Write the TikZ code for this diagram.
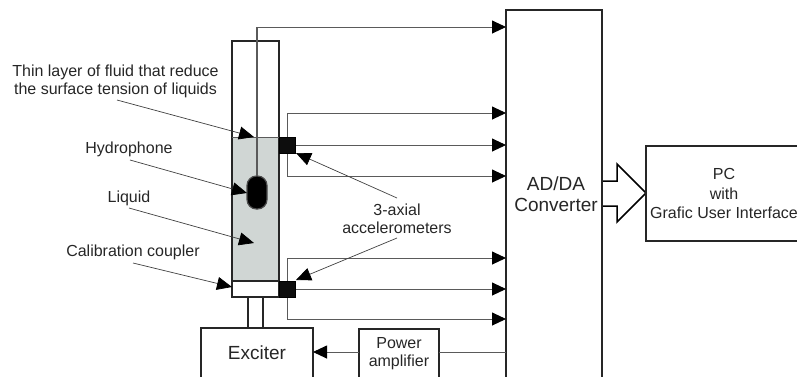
\documentclass[tikz,border=0pt]{standalone}
\usepackage{fontspec}
\setmainfont{Liberation Sans}
\usetikzlibrary{arrows.meta,calc,positioning,shapes.geometric}
\definecolor{liquidgray}{RGB}{208,214,212}
\definecolor{wiregray}{RGB}{90,90,90}

\begin{document}
\begin{tikzpicture}[
    x=1pt,y=-1pt,
    box/.style={draw=black!85,line width=1.5pt,inner sep=0pt,outer sep=0pt,align=center},
    sensor/.style={draw=black,fill=black!95,line width=1pt,inner sep=0pt,outer sep=0pt,
                   minimum width=16pt,minimum height=16pt},
    wire/.style={draw=wiregray,line width=.9pt},
    sig/.style={wire,-{Triangle[length=14pt,width=13pt,color=black]}},
    lead/.style={draw=black!75,line width=.7pt,-{Triangle[length=15pt,width=13pt,color=black]}},
    lbl/.style={font=\fontsize{16}{18}\selectfont,align=center,inner sep=0pt,text=black!85,yshift=-1pt},
    biglbl/.style={font=\fontsize{19}{21.5}\selectfont,align=center,inner sep=0pt,text=black!85,yshift=-.5pt}]
  \useasboundingbox (0,0) rectangle (797,376);
  % tube
  \node[fill=liquidgray,inner sep=0pt,outer sep=0pt,minimum width=47pt,minimum height=144pt,anchor=north west] (liquid) at (232,137) {};
  \node[box,minimum width=47pt,minimum height=240pt,anchor=north west] (tube) at (232,41) {};
  \node[box,fill=white,minimum width=47pt,minimum height=16pt,anchor=north west] (coupler) at (232,281) {};
  \node[box,minimum width=15pt,minimum height=31pt,anchor=north west] (rod) at (248,297) {};
  \node[box,minimum width=112pt,minimum height=52pt,anchor=north west] (exciter) at (201,328) {};
  \node[biglbl] at (257,352) {Exciter};
  \draw[wire,line width=.7pt] (liquid.north west) -- (liquid.north east);
  % big arrow
  \draw[draw=black,line width=1.5pt,fill=white] (602,181) -- (617,181) -- (617,164)
    -- (646,193) -- (617,222) -- (617,206) -- (602,206);
  % sensors
  \node[sensor,anchor=north west] (acctop) at (279,137) {};
  \node[sensor,anchor=north west] (accbot) at (279,281) {};
  \node[draw=black!70,fill=black,line width=1.2pt,rounded corners=9.5pt,minimum width=20pt,
        minimum height=33pt,anchor=north west,inner sep=0pt,outer sep=0pt] (hydro) at (247,176) {};
  % blocks
  \node[box,minimum width=96pt,minimum height=372pt,anchor=north west] (adda) at (506,10) {};
  \node[biglbl] at (556,193.5) {AD/DA\\Converter};
  \node[box,minimum width=155pt,minimum height=95pt,anchor=north west] (pc) at (646,146) {};
  \node[lbl,font=\fontsize{16}{19.5}\selectfont] at (724,192.5) {PC\\with\\Grafic User Interface};
  \node[box,minimum width=80pt,minimum height=50pt,anchor=north west] (amp) at (359,329) {};
  \node[lbl] at (399,353) {Power\\amplifier};
  % wires
  \coordinate (hw) at (257,27);
  \draw[wire,line width=1.2pt] (hydro.north) -- (hw);
  \draw[sig] (hw) -- (hw -| adda.west);
  \foreach \src/\x/\ya/\yb/\yc in {acctop/287/113/145/176,accbot/287/258/289/319}{
    \draw[sig] (\src) -- (506,\yb);
    \draw[sig] (\x,\ya) -- (506,\ya);
    \draw[sig] (\x,\yc) -- (506,\yc);
    \draw[wire] (\x,\ya) -- (\x,\yc);
    \node[sensor,anchor=center] at (\src.center) {};
  }
  \draw[wire] (506,352) -- (439,352);
  \draw[sig] (359,352) -- (313,352);
  % labels
  \node[lbl] (lthin) at (115.5,80) {Thin layer of fluid that reduce\\the surface tension of liquids};
  \node[lbl] (lhydro) at (129,148) {Hydrophone};
  \node[lbl] (lliquid) at (129,197) {Liquid};
  \node[lbl] (lcoup) at (133,251) {Calibration coupler};
  \node[lbl] (lacc) at (397,218) {3-axial\\accelerometers};
  \draw[lead] (117,100) -- (254,137);
  \draw[lead] (130,160) -- (247,193);
  \draw[lead] (129,208) -- (254,243);
  \draw[lead] (133,263) -- (232,287);
  \draw[lead] (397,198) -- (296,153);
  \draw[lead] (397,238) -- (296,280);
\end{tikzpicture}
\end{document}
